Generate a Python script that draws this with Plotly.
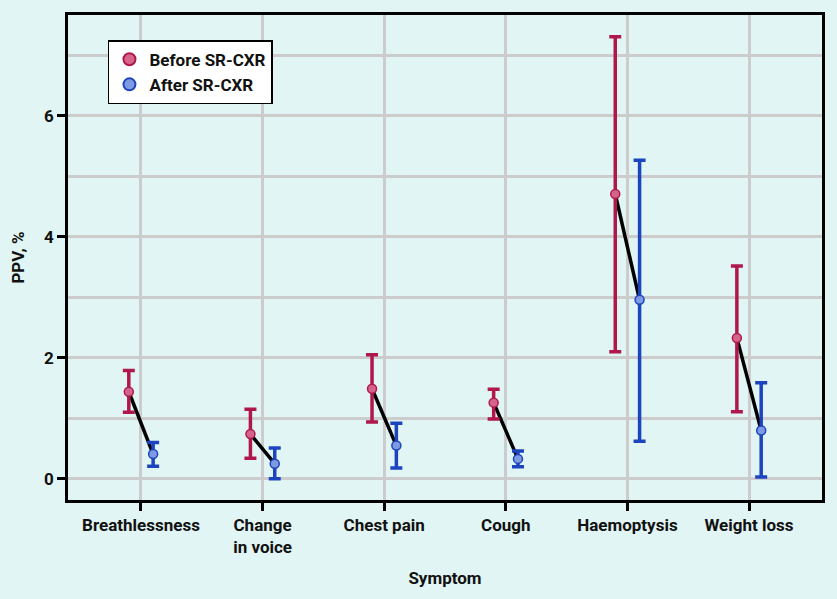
import plotly.graph_objects as go

symptoms = ["Breathlessness", "Change<br>in voice", "Chest pain", "Cough", "Haemoptysis", "Weight loss"]
before_ppv = [1.44, 0.74, 1.49, 1.26, 4.71, 2.33]
before_lo = [1.10, 0.34, 0.94, 0.99, 2.10, 1.11]
before_hi = [1.79, 1.15, 2.05, 1.48, 7.31, 3.52]
after_ppv = [0.41, 0.25, 0.55, 0.33, 2.96, 0.80]
after_lo = [0.21, 0.00, 0.18, 0.20, 0.62, 0.03]
after_hi = [0.60, 0.51, 0.92, 0.46, 5.27, 1.59]

offset = 0.1
idx = list(range(len(symptoms)))
xb = [i - offset for i in idx]
xa = [i + offset for i in idx]

RED = "#B0184C"
RED_FILL = "#D5648A"
BLUE = "#1C44BE"
BLUE_FILL = "#7E9AE2"
BG = "#E1F6F4"
FONT = "Roboto"
FS = 17

fig = go.Figure()

lx, ly = [], []
for i in idx:
    lx += [xb[i], xa[i], None]
    ly += [before_ppv[i], after_ppv[i], None]
fig.add_trace(go.Scatter(x=lx, y=ly, mode="lines", line=dict(color="black", width=3.5),
                         showlegend=False, hoverinfo="skip"))

fig.add_trace(go.Scatter(
    x=xb, y=before_ppv, mode="markers", name="Before SR-CXR",
    marker=dict(size=9, color=RED_FILL, line=dict(color=RED, width=1.5)),
    error_y=dict(type="data", symmetric=False,
                 array=[h - v for h, v in zip(before_hi, before_ppv)],
                 arrayminus=[v - l for v, l in zip(before_ppv, before_lo)],
                 color=RED, thickness=3.5, width=6)))

fig.add_trace(go.Scatter(
    x=xa, y=after_ppv, mode="markers", name="After SR-CXR",
    marker=dict(size=9, color=BLUE_FILL, line=dict(color=BLUE, width=1.5)),
    error_y=dict(type="data", symmetric=False,
                 array=[h - v for h, v in zip(after_hi, after_ppv)],
                 arrayminus=[v - l for v, l in zip(after_ppv, after_lo)],
                 color=BLUE, thickness=3.5, width=6)))

fig.update_layout(
    width=837, height=599,
    paper_bgcolor=BG, plot_bgcolor=BG,
    margin=dict(l=68, r=15, t=15, b=99),
    font=dict(family=FONT, size=FS, color="#111111"),
    legend=dict(x=0.053, y=0.948, xanchor="left", yanchor="top",
                bgcolor="white", bordercolor="black", borderwidth=1.5,
                font=dict(family=FONT, size=FS, color="#111111", weight="bold"),
                tracegroupgap=0, itemsizing="constant"),
    xaxis=dict(range=[-0.6, 5.6], tickvals=idx, ticktext=symptoms,
               showgrid=True, gridcolor="#CCCCCC", gridwidth=2.5,
               showline=True, linecolor="black", linewidth=2.5, mirror=True,
               ticks="outside", ticklen=8, tickwidth=2.5, tickcolor="black",
               zeroline=False,
               tickfont=dict(family=FONT, size=FS, weight="bold"),
               title=dict(text="Symptom", font=dict(family=FONT, size=FS, weight="bold"), standoff=16)),
    yaxis=dict(range=[-0.35, 7.67], tickvals=[0, 2, 4, 6],
               showgrid=True, gridcolor="#CCCCCC", gridwidth=2.5,
               minor=dict(dtick=1, tick0=0, showgrid=True, gridcolor="#CCCCCC", gridwidth=2.5),
               showline=True, linecolor="black", linewidth=2.5, mirror=True,
               ticks="outside", ticklen=8, tickwidth=2.5, tickcolor="black",
               zeroline=False,
               tickfont=dict(family=FONT, size=FS, weight="bold"),
               title=dict(text="PPV, %", font=dict(family=FONT, size=FS, weight="bold"), standoff=16)),
)

fig.write_html("out.html", config={"displayModeBar": False},
               post_script="document.body.style.margin='0';document.body.style.background='" + BG + "';")
